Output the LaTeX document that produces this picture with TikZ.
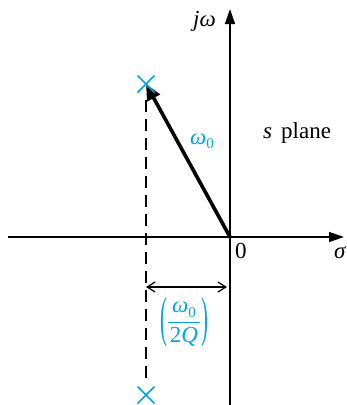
\RequirePackage{fix-cm}
\documentclass[tikz,border=0pt]{standalone}
\usepackage{amsmath}
\usepackage{graphicx}
\usepackage{fontspec}
\setmainfont{Liberation Serif}
\usetikzlibrary{arrows.meta,calc}
\definecolor{pcyan}{RGB}{0,166,226}
\newcommand{\myom}{\textit{ω}}
\newcommand{\mysub}[1]{\raisebox{-0.2em}{\fontsize{15}{15}\selectfont #1}}
\newcommand{\bigparen}[1]{\raisebox{-7.5pt}{\scalebox{0.9}[2.4]{#1}}}
\begin{document}
\begin{tikzpicture}[x=1pt,y=-1pt,
  axis/.style={line width=1.4pt,-{Triangle[length=15pt,width=10pt]}},
  vec/.style={line width=3.6pt,-{Triangle[length=16pt,width=14pt]}},
  dim/.style={line width=1.2pt,{Straight Barb[length=8pt,width=10pt]}-{Straight Barb[length=8pt,width=10pt]}},
  pole/.style={pcyan,line width=1.6pt},
  lab/.style={font=\fontsize{23}{27}\selectfont,inner sep=0pt},
  clab/.style={text=pcyan,font=\fontsize{23}{27}\selectfont,inner sep=0pt}]
\useasboundingbox (0,0) rectangle (346,405);
\coordinate (O) at (230,237);
\coordinate (xs) at (8,237);
\coordinate (xe) at (344,237);
\coordinate (ys) at (230,405);
\coordinate (ye) at (230,9);
\coordinate (P) at (146,84);
\coordinate (Pb) at (146,395);
\coordinate (ds) at (146,100);
\coordinate (de) at (146,385);
\coordinate (da) at (146,287);
\coordinate (db) at (227,287);
\draw[axis] (xs) -- (xe);
\draw[axis] (ys) -- (ye);
\draw[line width=1.3pt,dash pattern=on 12pt off 7pt] (ds) -- (de);
\draw[vec] (O) -- (P);
\draw[dim] (da) -- (db);
\foreach \p in {P,Pb}{
  \draw[pole] ($(\p)+(-8.5,-8.5)$) -- ($(\p)+(8.5,8.5)$);
  \draw[pole] ($(\p)+(-8.5,8.5)$) -- ($(\p)+(8.5,-8.5)$);
}
\node[clab,anchor=base west] (w0) at (190,144) {\myom\mysub{0}};
\node[clab] (wq) at (184,322) {\bigparen{(}\hspace{1pt}{\setlength{\arrayrulewidth}{1pt}\renewcommand{\arraystretch}{1.05}\begin{tabular}{@{\hspace{2pt}}c@{\hspace{2pt}}}\myom\mysub{0}\\[1pt]\hline 2\textit{Q}\end{tabular}}\hspace{1pt}\bigparen{)}};
\node[lab,anchor=base] (sp) at (297,138) {\textit{s}\hspace{0.15em} plane};
\node[lab,anchor=base west] (jw) at (193,26) {\textit{jω}};
\node[lab,anchor=base west] (zero) at (235,258) {0};
\node[lab,anchor=base west] (sig) at (334,258) {\textit{σ}};
\end{tikzpicture}
\end{document}
